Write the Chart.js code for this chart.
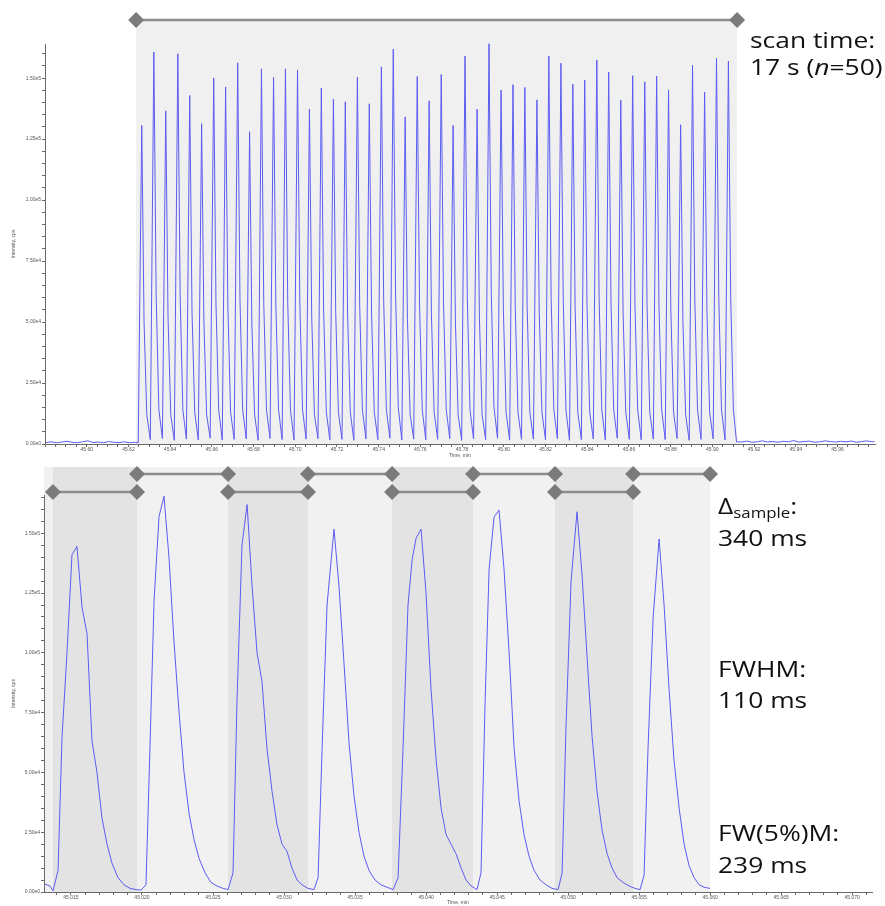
<!DOCTYPE html>
<html>
<head>
<meta charset="utf-8">
<script src="https://cdn.jsdelivr.net/npm/chart.js@4.4.1/dist/chart.umd.min.js"></script>
<style>
  body { margin: 0; background: #fff; width: 885px; height: 906px; position: relative; overflow: hidden; }
  canvas { position: absolute; left: 0; }
  #topChart { top: 0; }
  #zoomChart { top: 460px; }
  .note { position: absolute; font-family: 'Open Sans', sans-serif; font-size: 22px; line-height: 22px; color: #111;
          white-space: nowrap; transform: scaleX(1.2); transform-origin: 0 0; }
  .note sub { font-size: 14px; vertical-align: -4px; line-height: 0; }
</style>
</head>
<body>
<canvas id="topChart" width="885" height="460"></canvas>
<canvas id="zoomChart" width="885" height="446"></canvas>

<div class="note" style="left:750px;top:28px">scan time:</div>
<div class="note" style="left:750px;top:55px">17 s (<i>n</i>=50)</div>
<div class="note" style="left:718px;top:494px">&Delta;<sub>sample</sub>:</div>
<div class="note" style="left:718px;top:526px">340 ms</div>
<div class="note" style="left:718px;top:657px">FWHM:</div>
<div class="note" style="left:718px;top:688px">110 ms</div>
<div class="note" style="left:718px;top:821px">FW(5%)M:</div>
<div class="note" style="left:718px;top:853px">239 ms</div>

<script>
// ---- top panel: full scan, 50 peaks ----
const topApexTimes = [
  45.6264, 45.6322, 45.6379, 45.6437, 45.6494, 45.6551, 45.6609, 45.6666, 45.6724, 45.6781,
  45.6838, 45.6896, 45.6953, 45.7011, 45.7068, 45.7125, 45.7183, 45.7240, 45.7298, 45.7355,
  45.7413, 45.7470, 45.7527, 45.7585, 45.7642, 45.7700, 45.7757, 45.7814, 45.7872, 45.7929,
  45.7987, 45.8044, 45.8101, 45.8159, 45.8216, 45.8274, 45.8331, 45.8388, 45.8446, 45.8503,
  45.8561, 45.8618, 45.8676, 45.8733, 45.8790, 45.8848, 45.8905, 45.8963, 45.9020, 45.9077
];
const topApexCps = [
  130600, 160700, 136600, 160000, 142900, 131300, 150100, 146400, 156300, 128000,
  153800, 150300, 153800, 153300, 137300, 145900, 141400, 140300, 150400, 139500,
  154600, 161900, 134100, 150700, 140700, 151500, 130600, 159100, 137300, 164100,
  145100, 147300, 146200, 141100, 159100, 156100, 147500, 149200, 157500, 152500,
  141000, 151000, 148500, 150800, 145200, 130900, 155300, 144300, 158100, 157000
];
// falling flank of each peak: a shoulder point and a late tail point
const topShoulderTimes = [
  45.6275, 45.6333, 45.6390, 45.6448, 45.6505, 45.6562, 45.6620, 45.6677, 45.6735, 45.6792,
  45.6849, 45.6907, 45.6964, 45.7022, 45.7079, 45.7136, 45.7194, 45.7251, 45.7309, 45.7366,
  45.7424, 45.7481, 45.7538, 45.7596, 45.7653, 45.7711, 45.7768, 45.7825, 45.7883, 45.7940,
  45.7998, 45.8055, 45.8112, 45.8170, 45.8227, 45.8285, 45.8342, 45.8399, 45.8457, 45.8514,
  45.8572, 45.8629, 45.8687, 45.8744, 45.8801, 45.8859, 45.8916, 45.8974, 45.9031, 45.9088
];
const topShoulderCps = [
  50000, 61000, 52000, 61000, 54000, 50000, 57000, 56000, 59000, 49000,
  58000, 57000, 58000, 58000, 52000, 55000, 54000, 53000, 57000, 53000,
  59000, 62000, 51000, 57000, 53000, 58000, 50000, 60000, 52000, 62000,
  55000, 56000, 56000, 54000, 60000, 59000, 56000, 57000, 60000, 58000,
  54000, 57000, 56000, 57000, 55000, 50000, 59000, 55000, 60000, 60000
];
const topTailTimes = [
  45.6288, 45.6346, 45.6403, 45.6461, 45.6518, 45.6575, 45.6633, 45.6690, 45.6748, 45.6805,
  45.6862, 45.6920, 45.6977, 45.7035, 45.7092, 45.7149, 45.7207, 45.7264, 45.7322, 45.7379,
  45.7437, 45.7494, 45.7551, 45.7609, 45.7666, 45.7724, 45.7781, 45.7838, 45.7896, 45.7953,
  45.8011, 45.8068, 45.8125, 45.8183, 45.8240, 45.8298, 45.8355, 45.8412, 45.8470, 45.8527,
  45.8585, 45.8642, 45.8700, 45.8757, 45.8814, 45.8872, 45.8929, 45.8987, 45.9044, 45.9101
];
const topTailCps = [
  12000, 14000, 12000, 14000, 13000, 12000, 14000, 13000, 14000, 12000,
  14000, 14000, 14000, 14000, 12000, 13000, 13000, 13000, 14000, 13000,
  14000, 15000, 12000, 14000, 13000, 14000, 12000, 14000, 12000, 15000,
  13000, 13000, 13000, 13000, 14000, 14000, 13000, 13000, 14000, 14000,
  13000, 14000, 13000, 14000, 13000, 12000, 14000, 13000, 14000, 14000
];
const topValleyTimes = [
  45.6247,
  45.6305, 45.6363, 45.6420, 45.6478, 45.6535, 45.6592, 45.6650, 45.6707, 45.6765, 45.6822,
  45.6879, 45.6937, 45.6994, 45.7052, 45.7109, 45.7166, 45.7224, 45.7281, 45.7339, 45.7396,
  45.7454, 45.7511, 45.7568, 45.7626, 45.7683, 45.7741, 45.7798, 45.7855, 45.7913, 45.7970,
  45.8028, 45.8085, 45.8142, 45.8200, 45.8257, 45.8315, 45.8372, 45.8429, 45.8487, 45.8544,
  45.8602, 45.8659, 45.8717, 45.8774, 45.8831, 45.8889, 45.8946, 45.9004, 45.9061, 45.9116
];
const topValleyCps = [
  600,
  1800, 2200, 1500, 2000, 1700, 2400, 1600, 1900, 2100, 1500,
  2300, 1800, 1600, 2000, 2200, 1700, 1900, 1500, 2100, 1800,
  2400, 1600, 2000, 1700, 1900, 2200, 1500, 2100, 1800, 2300,
  1600, 1900, 2000, 1700, 2200, 1500, 1800, 2100, 1600, 2400,
  1900, 1700, 2000, 1800, 2200, 1500, 1900, 2100, 1700,
  900
];
const topBaseLeftTimes = [45.5805, 45.5830, 45.5855, 45.5880, 45.5905, 45.5930, 45.5955, 45.5980, 45.6005,
  45.6030, 45.6055, 45.6080, 45.6105, 45.6130, 45.6155, 45.6180, 45.6205, 45.6230];
const topBaseLeftCps = [600, 900, 500, 800, 1100, 700, 500, 900, 1300, 600, 800, 500, 1000, 700, 600, 900, 500, 700];
const topBaseRightTimes = [45.9140, 45.9165, 45.9190, 45.9215, 45.9240, 45.9265, 45.9290, 45.9315, 45.9340,
  45.9365, 45.9390, 45.9415, 45.9440, 45.9465, 45.9490, 45.9515, 45.9540, 45.9565, 45.9590, 45.9615,
  45.9640, 45.9665, 45.9690, 45.9715, 45.9740, 45.9765, 45.9778];
const topBaseRightCps = [800, 1200, 700, 900, 1300, 800, 1000, 700, 1100, 900, 1400, 800, 1000, 1200, 700,
  900, 1300, 1000, 800, 1100, 900, 1200, 700, 1000, 1300, 900, 1000];
const scanWindow = [45.6237, 45.9119];
const topXLabels = [45.60, 45.62, 45.64, 45.66, 45.68, 45.70, 45.72, 45.74, 45.76, 45.78,
  45.80, 45.82, 45.84, 45.86, 45.88, 45.90, 45.92, 45.94, 45.96];

// ---- bottom panel: zoom on 8 cycles ----
const zoomTimes = [
  45.01317, 45.01352, 45.01373, 45.01409, 45.01437, 45.01472, 45.01507, 45.01542, 45.01578, 45.01613,
  45.01648, 45.01683, 45.01718, 45.01754, 45.01789, 45.01831, 45.01873, 45.01916, 45.01958, 45.01993,
  45.02028, 45.02056, 45.02085, 45.02120, 45.02155, 45.02190, 45.02225, 45.02261, 45.02296, 45.02331,
  45.02366, 45.02402, 45.02444, 45.02486, 45.02528, 45.02571, 45.02606,
  45.02641, 45.02669, 45.02704, 45.02740, 45.02775, 45.02810, 45.02845, 45.02880, 45.02916, 45.02951,
  45.02986, 45.03021, 45.03056, 45.03092, 45.03127, 45.03169, 45.03211,
  45.03240, 45.03268, 45.03303, 45.03352, 45.03387, 45.03423, 45.03458, 45.03493, 45.03528, 45.03563,
  45.03599, 45.03641, 45.03683, 45.03725, 45.03768,
  45.03803, 45.03838, 45.03873, 45.03902, 45.03930, 45.03965, 45.04000, 45.04035, 45.04071, 45.04106,
  45.04141, 45.04176, 45.04211, 45.04247, 45.04282, 45.04317, 45.04359,
  45.04387, 45.04416, 45.04444, 45.04479, 45.04514, 45.04549, 45.04585, 45.04620, 45.04655, 45.04690,
  45.04725, 45.04761, 45.04803, 45.04845, 45.04887, 45.04930,
  45.04958, 45.04986, 45.05021, 45.05063, 45.05099, 45.05134, 45.05169, 45.05204, 45.05239, 45.05275,
  45.05310, 45.05345, 45.05387, 45.05430, 45.05472, 45.05507,
  45.05535, 45.05563, 45.05599, 45.05641, 45.05676, 45.05711, 45.05746, 45.05782, 45.05817, 45.05852,
  45.05887, 45.05923, 45.05958, 45.06000
];
const zoomCps = [
  3300, 2500, 500, 9000, 65000, 100000, 141000, 144500, 119000, 108000,
  63000, 50000, 31000, 20000, 12000, 6000, 3000, 1500, 1000, 800,
  3000, 60000, 122000, 157000, 165500, 140000, 105000, 75000, 50000, 33000,
  22000, 14000, 8000, 4000, 2500, 1500, 1000,
  8000, 80000, 145000, 162000, 128000, 100000, 88000, 60000, 42000, 28000,
  20000, 17000, 10000, 5000, 3000, 1500, 1000,
  6000, 60000, 120000, 151700, 128000, 95000, 62000, 40000, 25000, 15000,
  9000, 5000, 3000, 2000, 1000,
  6000, 60000, 120000, 139000, 148000, 151700, 125000, 85000, 55000, 35000,
  24000, 20000, 16000, 10000, 5000, 2500, 1000,
  8000, 80000, 135000, 156800, 159700, 135000, 100000, 60000, 38000, 24000,
  15000, 9000, 5000, 3000, 1500, 1000,
  8000, 70000, 130000, 159000, 132000, 98000, 65000, 42000, 26000, 16000,
  10000, 6000, 4000, 2500, 1500, 1000,
  7000, 60000, 115000, 147600, 120000, 85000, 55000, 35000, 20000, 11000,
  6000, 3000, 2000, 1500
];
const cycleEdges = [45.01373, 45.01965, 45.02606, 45.03169, 45.03761, 45.04331, 45.04908, 45.05458, 45.06000];
const zoomXLabels = [45.015, 45.020, 45.025, 45.030, 45.035, 45.040, 45.045, 45.050, 45.055, 45.060, 45.065, 45.070];
const yLabels = [0, 25000, 50000, 75000, 100000, 125000, 150000];

function pairs(xs, ys) {
  return xs.map((x, i) => ({ x: x, y: ys[i] }));
}

const topTrace = pairs(topBaseLeftTimes, topBaseLeftCps);
topValleyTimes.forEach((t, i) => {
  topTrace.push({ x: t, y: topValleyCps[i] });
  if (i < topApexTimes.length) {
    topTrace.push({ x: topApexTimes[i], y: topApexCps[i] });
    topTrace.push({ x: topShoulderTimes[i], y: topShoulderCps[i] });
    topTrace.push({ x: topTailTimes[i], y: topTailCps[i] });
  }
});
topTrace.push(...pairs(topBaseRightTimes, topBaseRightCps));
const zoomTrace = pairs(zoomTimes, zoomCps);

const tickFont = { family: 'Liberation Sans', size: 5 };
const axisGrey = '#6a6a6a';

function drawSpan(ctx, x0, x1, y) {
  ctx.save();
  ctx.strokeStyle = '#8c8c8c';
  ctx.lineWidth = 2.5;
  ctx.beginPath();
  ctx.moveTo(x0, y);
  ctx.lineTo(x1, y);
  ctx.stroke();
  ctx.fillStyle = '#7b7b7b';
  [x0, x1].forEach(x => {
    ctx.beginPath();
    ctx.moveTo(x, y - 8);
    ctx.lineTo(x + 8, y);
    ctx.lineTo(x, y + 8);
    ctx.lineTo(x - 8, y);
    ctx.closePath();
    ctx.fill();
  });
  ctx.restore();
}

function isOn(v, list, tol) {
  return list.some(l => Math.abs(l - v) < tol);
}

function makeOptions(cfg) {
  return {
    responsive: false,
    animation: false,
    layout: { padding: cfg.padding },
    plugins: { legend: { display: false }, tooltip: { enabled: false } },
    scales: {
      x: {
        type: 'linear',
        min: cfg.xMin,
        max: cfg.xMax,
        afterFit: s => { s.height = cfg.xHeight; },
        afterBuildTicks: s => {
          const t = [];
          const k0 = Math.ceil(cfg.xMin / cfg.xMinor - 1e-6);
          const k1 = Math.floor(cfg.xMax / cfg.xMinor + 1e-6);
          for (let k = k0; k <= k1; k++) t.push({ value: k * cfg.xMinor });
          s.ticks = t;
        },
        ticks: {
          autoSkip: false, maxRotation: 0, minRotation: 0, padding: 0,
          font: tickFont, color: '#555',
          callback: v => isOn(v, cfg.xLabels, cfg.xMinor / 10) ? v.toFixed(cfg.xDec) : ''
        },
        grid: { drawOnChartArea: false, drawTicks: true, tickLength: 3, color: axisGrey },
        border: { display: true, color: axisGrey },
        title: { display: true, text: 'Time, min', font: tickFont, color: '#555', padding: { top: 0, bottom: cfg.titlePad } }
      },
      y: {
        min: 0,
        max: cfg.yMax,
        afterFit: s => { s.width = cfg.yWidth; },
        afterBuildTicks: s => {
          const t = [];
          for (let v = 0; v <= cfg.yMax; v += 5000) t.push({ value: v });
          s.ticks = t;
        },
        ticks: {
          autoSkip: false, padding: 1, font: tickFont, color: '#555',
          callback: v => isOn(v, yLabels, 100) ? v.toExponential(2).replace('e+', 'e') : ''
        },
        grid: { drawOnChartArea: false, drawTicks: true, tickLength: 3, color: axisGrey },
        border: { display: true, color: axisGrey },
        title: { display: true, text: 'Intensity, cps', font: tickFont, color: '#555', padding: { top: 11, bottom: 0 } }
      }
    }
  };
}

const lineStyle = { borderColor: '#5c5cf2', borderWidth: 1, pointRadius: 0, tension: 0, clip: false };

new Chart(document.getElementById('topChart'), {
  type: 'line',
  data: { datasets: [Object.assign({ data: topTrace }, lineStyle)] },
  options: makeOptions({
    padding: { left: 0, top: 44, right: 10, bottom: 0 },
    xMin: 45.580, xMax: 45.978, xMinor: 0.005, xLabels: topXLabels, xDec: 2, xHeight: 16, titlePad: 1,
    yMax: 164000, yWidth: 45
  }),
  plugins: [{
    id: 'scanWindow',
    beforeDraw(chart) {
      const { ctx, chartArea, scales: { x } } = chart;
      const x0 = x.getPixelForValue(scanWindow[0]);
      const x1 = x.getPixelForValue(scanWindow[1]);
      ctx.save();
      ctx.fillStyle = '#f0f0f0';
      ctx.fillRect(x0, 21, x1 - x0, chartArea.bottom - 21);
      ctx.restore();
    },
    afterDraw(chart) {
      const x = chart.scales.x;
      drawSpan(chart.ctx, x.getPixelForValue(scanWindow[0]), x.getPixelForValue(scanWindow[1]), 20);
    }
  }]
});

new Chart(document.getElementById('zoomChart'), {
  type: 'line',
  data: { datasets: [Object.assign({ data: zoomTrace }, lineStyle)] },
  options: makeOptions({
    padding: { left: 0, top: 35, right: 13, bottom: 0 },
    xMin: 45.0131, xMax: 45.0714, xMinor: 0.001, xLabels: zoomXLabels, xDec: 3, xHeight: 14, titlePad: 0,
    yMax: 166000, yWidth: 44
  }),
  plugins: [{
    id: 'cycles',
    beforeDraw(chart) {
      const { ctx, chartArea, scales: { x } } = chart;
      const last = x.getPixelForValue(cycleEdges[cycleEdges.length - 1]);
      ctx.save();
      ctx.fillStyle = '#f1f1f1';
      ctx.fillRect(chartArea.left, 7, last - chartArea.left, chartArea.bottom - 7);
      ctx.fillStyle = '#e3e3e3';
      for (let i = 0; i + 1 < cycleEdges.length; i += 2) {
        const a = x.getPixelForValue(cycleEdges[i]);
        const b = x.getPixelForValue(cycleEdges[i + 1]);
        ctx.fillRect(a, 7, b - a, chartArea.bottom - 7);
      }
      ctx.restore();
    },
    afterDraw(chart) {
      const x = chart.scales.x;
      for (let i = 0; i + 1 < cycleEdges.length; i++) {
        const y = i % 2 === 0 ? 32 : 14;
        drawSpan(chart.ctx, x.getPixelForValue(cycleEdges[i]), x.getPixelForValue(cycleEdges[i + 1]), y);
      }
    }
  }]
});
</script>
</body>
</html>
